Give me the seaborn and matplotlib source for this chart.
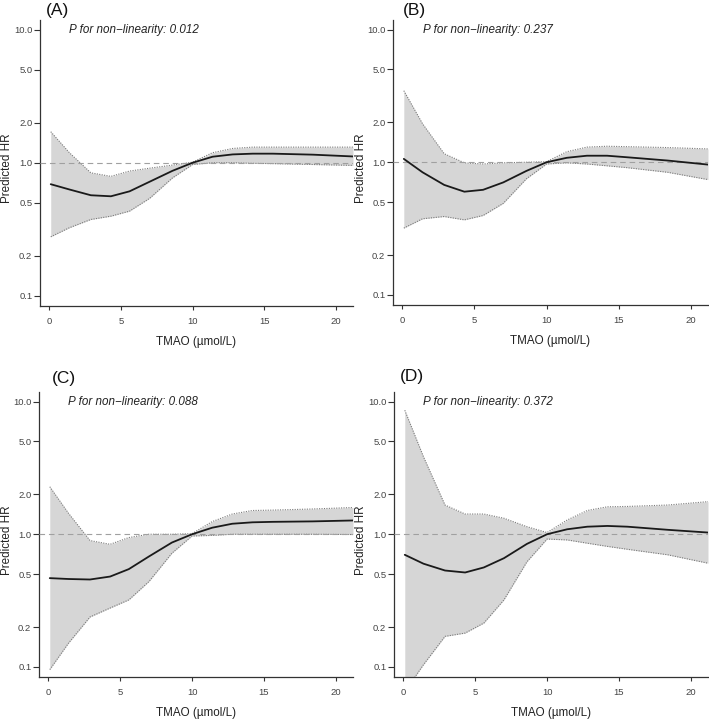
import matplotlib
matplotlib.use("Agg")
import matplotlib.pyplot as plt
import seaborn as sns
import numpy as np
import pandas as pd

# ---- data ----
tmao = [0.1, 1.4, 2.9, 4.3, 5.6, 7.0, 8.6, 10.0, 11.4, 12.8, 14.2, 15.6, 18.4, 21.2]

hr_a = [0.69, 0.63, 0.57, 0.56, 0.61, 0.72, 0.87, 1.0, 1.11, 1.155, 1.17, 1.17, 1.15, 1.115]
up_a = [1.71, 1.19, 0.84, 0.79, 0.866, 0.91, 0.96, 1.01, 1.19, 1.28, 1.31, 1.31, 1.31, 1.31]
lo_a = [0.278, 0.325, 0.375, 0.397, 0.433, 0.54, 0.77, 0.97, 1.0, 1.0, 0.99, 0.985, 0.97, 0.955]

hr_b = [1.06, 0.84, 0.675, 0.60, 0.62, 0.705, 0.86, 1.0, 1.08, 1.12, 1.12, 1.09, 1.03, 0.96]
up_b = [3.46, 1.95, 1.16, 0.99, 0.97, 0.99, 1.0, 1.01, 1.2, 1.3, 1.32, 1.31, 1.29, 1.26]
lo_b = [0.319, 0.375, 0.39, 0.368, 0.397, 0.49, 0.75, 0.97, 0.99, 0.97, 0.94, 0.91, 0.84, 0.74]

hr_c = [0.467, 0.46, 0.456, 0.48, 0.546, 0.68, 0.866, 1.0, 1.12, 1.2, 1.23, 1.24, 1.25, 1.27]
up_c = [2.28, 1.44, 0.896, 0.84, 0.944, 1.0, 1.0, 1.01, 1.245, 1.42, 1.51, 1.52, 1.55, 1.59]
lo_c = [0.0955, 0.151, 0.238, 0.278, 0.32, 0.44, 0.72, 0.97, 0.98, 1.0, 1.0, 1.0, 1.0, 0.995]

hr_d = [0.70, 0.60, 0.533, 0.515, 0.562, 0.66, 0.846, 1.0, 1.09, 1.14, 1.155, 1.14, 1.08, 1.03]
up_d = [8.6, 3.84, 1.66, 1.42, 1.42, 1.32, 1.14, 1.03, 1.28, 1.51, 1.61, 1.62, 1.66, 1.76]
lo_d = [0.065, 0.104, 0.17, 0.18, 0.214, 0.32, 0.62, 0.92, 0.906, 0.856, 0.81, 0.77, 0.70, 0.605]

panel_labels = ["(A)", "(B)", "(C)", "(D)"]
p_values = ["0.012", "0.237", "0.088", "0.372"]
y_ticks = [0.1, 0.2, 0.5, 1.0, 2.0, 5.0, 10.0]
y_tick_labels = ["0.1", "0.2", "0.5", "1.0", "2.0", "5.0", "10.0"]
x_ticks = [0, 5, 10, 15, 20]
x_label = "TMAO (\u00b5mol/L)"
y_label = "Predicted HR"

# ---- style ----
sns.set_style("ticks")
plt.rcParams["font.family"] = ["Liberation Sans", "DejaVu Sans"]

W, H = 709, 720
fig = plt.figure(figsize=(W / 100, H / 100), dpi=100)

# axes rectangles in pixels: left, right, top, bottom
rects = [(40, 353, 20, 306), (393, 708, 20, 305), (39, 353, 392, 677), (394, 708, 392, 677)]
label_pos = [(46, 11), (403, 10), (52, 379), (400, 376)]
ylabel_right = [13, 367, 13, 367]

series = [(hr_a, up_a, lo_a), (hr_b, up_b, lo_b), (hr_c, up_c, lo_c), (hr_d, up_d, lo_d)]

for i, ((l, r, t, b), (hr, up, lo)) in enumerate(zip(rects, series)):
    ax = fig.add_axes([l / W, 1 - b / H, (r - l) / W, (b - t) / H])
    df = pd.DataFrame({"TMAO": tmao, "HR": hr, "upper": up, "lower": lo})
    ax.fill_between(df["TMAO"], df["lower"], df["upper"], color="#d6d6d6", linewidth=0, zorder=1)
    sns.lineplot(data=df, x="TMAO", y="upper", ax=ax, color="#7a7a7a", linestyle=(0, (1, 1.2)),
                 linewidth=0.8, zorder=2)
    sns.lineplot(data=df, x="TMAO", y="lower", ax=ax, color="#7a7a7a", linestyle=(0, (1, 1.2)),
                 linewidth=0.8, zorder=2)
    ax.axhline(1.0, color="#a0a0a0", linestyle=(0, (5, 3.5)), linewidth=0.8, zorder=3)
    sns.lineplot(data=df, x="TMAO", y="HR", ax=ax, color="#1a1a1a", linewidth=1.3, zorder=4)

    ax.set_yscale("log")
    ax.set_ylim(0.084, 11.8)
    ax.set_xlim(-0.65, 21.2)
    ax.set_yticks(y_ticks)
    ax.set_yticklabels(y_tick_labels)
    ax.minorticks_off()
    ax.set_xticks(x_ticks)
    ax.set_xticklabels([str(v) for v in x_ticks])
    ax.tick_params(axis="y", length=4, width=0.8, pad=1.5, labelsize=6.8, colors="#333333",
                   labelcolor="#444444")
    ax.tick_params(axis="x", length=3, width=0.8, pad=5, labelsize=6.8, colors="#333333",
                   labelcolor="#444444")
    for s in ["top", "right"]:
        ax.spines[s].set_visible(False)
    for s in ["left", "bottom"]:
        ax.spines[s].set_color("#333333")
        ax.spines[s].set_linewidth(0.9)
    ax.set_xlabel(x_label, fontsize=8.4, color="#222222", labelpad=7)
    ax.set_ylabel(y_label, fontsize=8.4, color="#222222")
    ax.yaxis.set_label_coords((ylabel_right[i] - l) / (r - l), 0.48)
    ax.text(1.4, 10.0, "P for non\u2212linearity: " + p_values[i], style="italic", fontsize=8.4,
            va="center", ha="left", color="#222222")
    lx, ly = label_pos[i]
    fig.text(lx / W, 1 - ly / H, panel_labels[i], fontsize=12.5, ha="left", va="center", color="#111111")

fig.savefig("out.png", dpi=100)
